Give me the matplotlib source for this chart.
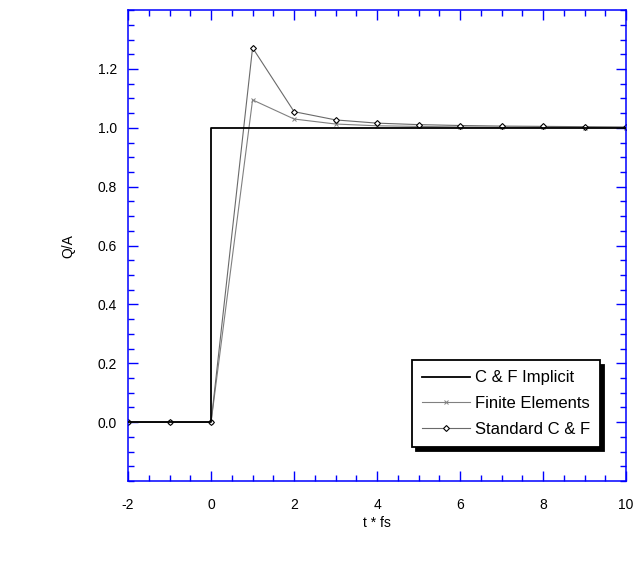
import numpy as np
import matplotlib.pyplot as plt
from matplotlib.ticker import MultipleLocator

plt.rcParams['font.family'] = ['Liberation Sans', 'DejaVu Sans']
plt.rcParams['axes.unicode_minus'] = False

t = [-2, -1, 0, 1, 2, 3, 4, 5, 6, 7, 8, 9, 10]
implicit = [0, 0, 0, 1, 1, 1, 1, 1, 1, 1, 1, 1, 1]
finite = [0, 0, 0, 1.095, 1.030, 1.013, 1.007, 1.005, 1.003, 1.002, 1.002, 1.001, 1.001]
standard = [0, 0, 0, 1.272, 1.055, 1.027, 1.016, 1.011, 1.008, 1.006, 1.005, 1.004, 1.003]

fig = plt.figure(figsize=(6.37, 5.62), dpi=100)
ax = fig.add_axes([0.201, 0.144, 0.782, 0.838])

ax.plot(t, implicit, color='black', lw=1.3, drawstyle='steps-pre', label='C & F Implicit', zorder=3)
ax.plot(t, finite, color='#808080', lw=0.8, marker='x', ms=3.5, mew=0.7, label='Finite Elements')
ax.plot(t, standard, color='#6a6a6a', lw=0.8, marker='D', ms=3, mfc='white', mec='black', mew=0.8,
        label='Standard C & F')

ax.set_xlim(-2, 10)
ax.set_ylim(-0.2, 1.4)
ax.set_xticks([-2, 0, 2, 4, 6, 8, 10])
ax.set_yticks([0.0, 0.2, 0.4, 0.6, 0.8, 1.0, 1.2])
ax.set_yticklabels(['0.0', '0.2', '0.4', '0.6', '0.8', '1.0', '1.2'])
ax.xaxis.set_minor_locator(MultipleLocator(0.5))
ax.yaxis.set_minor_locator(MultipleLocator(0.05))
ax.tick_params(which='both', direction='in', color='blue', top=True, right=True, labelsize=10)
ax.tick_params(which='major', length=7, width=1)
ax.tick_params(which='minor', length=4, width=1)
ax.tick_params(axis='x', pad=12)
ax.tick_params(axis='y', pad=8)
for s in ax.spines.values():
    s.set_color('blue')
    s.set_linewidth(1.1)

ax.set_xlabel('t * fs', fontsize=10, labelpad=3)
ax.set_ylabel('Q/A', fontsize=10, labelpad=16)

leg = ax.legend(loc='lower right', bbox_to_anchor=(0.948, 0.072), borderaxespad=0, fancybox=False,
                shadow={'color': 'black', 'alpha': 1, 'ox': 3, 'oy': -3},
                edgecolor='black', framealpha=1, fontsize=12, handlelength=2.9, handletextpad=0.3,
                borderpad=0.6, labelspacing=0.65)
leg.get_frame().set_linewidth(1.3)

fig.savefig('out.png', dpi=100)
